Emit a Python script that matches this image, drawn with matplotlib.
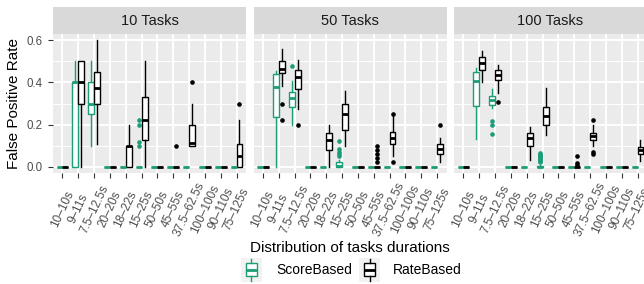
import numpy as np
import matplotlib
matplotlib.use('Agg')
import matplotlib.pyplot as plt
from matplotlib.patches import Rectangle
from matplotlib.lines import Line2D

plt.rcParams['font.family'] = ['Liberation Sans', 'DejaVu Sans']

panels = ['10 Tasks', '50 Tasks', '100 Tasks']
durations = ['10–10s', '9–11s', '7.5–12.5s', '20–20s', '18–22s', '15–25s',
             '50–50s', '45–55s', '37.5–62.5s', '100–100s', '90–110s', '75–125s']
methods = ['ScoreBased', 'RateBased']
colors = ['#1B9E77', '#000000']

# box summaries per duration: (lower whisker, q1, median, q3, upper whisker)
Z = (0, 0, 0, 0, 0)
score_10 = [Z, (0, 0, 0.4, 0.4, 0.5), (0.1, 0.25, 0.3, 0.4, 0.5), Z, Z, Z,
            Z, Z, Z, Z, Z, Z]
score_10_out = {5: [0.1, 0.117, 0.2, 0.222]}
rate_10 = [Z, (0, 0.3, 0.4, 0.5, 0.5), (0.11, 0.3, 0.375, 0.45, 0.6), Z,
           (0, 0, 0.1, 0.1, 0.2), (0, 0.125, 0.222, 0.333, 0.5), Z, Z,
           (0.1, 0.1, 0.111, 0.2, 0.3), Z, Z, (0, 0, 0.05, 0.11, 0.22)]
rate_10_out = {7: [0.1], 8: [0.4], 11: [0.3]}

score_50 = [Z, (0, 0.238, 0.379, 0.44, 0.455), (0.2, 0.284, 0.324, 0.354, 0.406),
            Z, Z, (0, 0, 0.005, 0.02, 0.03), Z, Z, Z, Z, Z, Z]
score_50_out = {2: [0.48], 5: [0.05, 0.06, 0.07, 0.085, 0.122]}
rate_50 = [Z, (0.383, 0.443, 0.462, 0.5, 0.557), (0.275, 0.37, 0.425, 0.457, 0.508),
           Z, (0, 0.078, 0.125, 0.16, 0.2), (0.097, 0.176, 0.252, 0.297, 0.359),
           Z, Z, (0.05, 0.108, 0.137, 0.163, 0.24), Z, Z,
           (0.022, 0.062, 0.086, 0.11, 0.137)]
rate_50_out = {1: [0.22, 0.3], 2: [0.2], 7: [0.02, 0.04, 0.06, 0.08, 0.1],
               8: [0.02, 0.25], 11: [0.2]}

score_100 = [Z, (0.132, 0.287, 0.406, 0.449, 0.47), (0.28, 0.295, 0.316, 0.335, 0.37),
             Z, Z, (0, 0, 0, 0.005, 0.01), Z, Z, Z, Z, Z, Z]
score_100_out = {2: [0.157, 0.197, 0.219],
                 5: [0.02, 0.025, 0.03, 0.035, 0.04, 0.045, 0.05, 0.055, 0.06, 0.065]}
rate_100 = [Z, (0.4, 0.459, 0.49, 0.52, 0.549), (0.348, 0.411, 0.433, 0.457, 0.483),
            Z, (0.03, 0.1, 0.137, 0.16, 0.189), (0.152, 0.2, 0.24, 0.284, 0.375),
            Z, Z, (0.1, 0.128, 0.144, 0.16, 0.2), Z, Z,
            (0.025, 0.062, 0.078, 0.094, 0.128)]
rate_100_out = {2: [0.306], 7: [0.01, 0.017, 0.05], 8: [0.06, 0.072, 0.224]}

data = [[(score_10, score_10_out), (rate_10, rate_10_out)],
        [(score_50, score_50_out), (rate_50, rate_50_out)],
        [(score_100, score_100_out), (rate_100, rate_100_out)]]


def make_stats(boxes, outliers):
    stats = []
    for i, (lo, q1, med, q3, hi) in enumerate(boxes):
        stats.append(dict(whislo=lo, q1=q1, med=med, q3=q3, whishi=hi,
                          fliers=outliers.get(i, [])))
    return stats


W, H = 644, 284
fig = plt.figure(figsize=(W / 100, H / 100), dpi=100)

x = np.arange(1, len(durations) + 1)
offsets = [-0.1875, 0.1875]
lefts = [53, 253.5, 454]
pw, top, bottom = 193, 34, 173

for k, name in enumerate(panels):
    ax = fig.add_axes([lefts[k] / W, (H - bottom) / H, pw / W, (bottom - top) / H])
    ax.set_facecolor('#EBEBEB')
    ax.set_axisbelow(True)
    for s in ax.spines.values():
        s.set_visible(False)
    ax.set_xlim(0.4, 12.6)
    ax.set_ylim(-0.03, 0.63)
    ax.set_yticks([0, 0.2, 0.4, 0.6])
    ax.set_yticks([0.1, 0.3, 0.5], minor=True)
    ax.set_xticks(x)
    ax.grid(which='major', color='white', lw=1.4)
    ax.grid(which='minor', axis='y', color='white', lw=0.7)
    ax.tick_params(which='minor', length=0)
    ax.tick_params(axis='x', length=3.8, width=0.8, color='#333333', pad=22,
                   labelsize=8.5, labelcolor='#4D4D4D')
    ax.set_xticklabels(durations, rotation=65, ha='center', va='center')
    if k == 0:
        ax.tick_params(axis='y', length=3.8, width=0.8, color='#333333', pad=4,
                       labelsize=8.3, labelcolor='#4D4D4D')
        ax.set_yticklabels(['0.0', '0.2', '0.4', '0.6'])
    else:
        ax.tick_params(axis='y', length=0, labelleft=False)

    for j, (boxes, outs) in enumerate(data[k]):
        c = colors[j]
        ax.bxp(make_stats(boxes, outs), positions=x + offsets[j], widths=0.375,
               showcaps=False, patch_artist=True, manage_ticks=False,
               boxprops=dict(facecolor='white', edgecolor=c, lw=1.0),
               whiskerprops=dict(color=c, lw=1.0),
               medianprops=dict(color=c, lw=2.0, solid_capstyle='butt'),
               flierprops=dict(marker='o', markersize=2.3, markerfacecolor=c,
                               markeredgecolor=c))

    sax = fig.add_axes([lefts[k] / W, (H - top) / H, pw / W, 27 / H])
    sax.set_facecolor('#D9D9D9')
    sax.set_xticks([])
    sax.set_yticks([])
    for s in sax.spines.values():
        s.set_visible(False)
    sax.text(0.5, 0.47, name, ha='center', va='center', fontsize=10.5,
             color='#1A1A1A', transform=sax.transAxes)

fig.text(14.5 / W, 1 - 103.5 / H, 'False Positive Rate', rotation=90,
         ha='center', va='center', fontsize=11)
fig.text(350 / W, 1 - 252.5 / H, 'Distribution of tasks durations',
         ha='center', va='baseline', fontsize=11)


# legend drawn in pixel units
def px_rect(x0, y0, x1, y1, **kw):
    fig.patches.append(Rectangle((x0 / W, 1 - y1 / H), (x1 - x0) / W, (y1 - y0) / H,
                                 transform=fig.transFigure, **kw))


def px_line(xs, ys, **kw):
    fig.lines.append(Line2D([v / W for v in xs], [1 - v / H for v in ys],
                            transform=fig.transFigure, **kw))


key_x = [241, 359]
text_x = [276, 393]
for j, m in enumerate(methods):
    kx = key_x[j]
    c = colors[j]
    px_rect(kx, 258, kx + 21, 282, facecolor='#F2F2F2', edgecolor='none')
    px_line([kx + 10.5, kx + 10.5], [258.5, 263.3], color=c, lw=1.0)
    px_line([kx + 10.5, kx + 10.5], [276, 281], color=c, lw=1.0)
    px_rect(kx + 5, 263.3, kx + 16, 276, facecolor='white', edgecolor=c, lw=1.0)
    px_line([kx + 5, kx + 16], [269.7, 269.7], color=c, lw=2.0, solid_capstyle='butt')
    fig.text(text_x[j] / W, 1 - 274.3 / H, m, ha='left', va='baseline', fontsize=10)

fig.savefig('out.png', dpi=100)
